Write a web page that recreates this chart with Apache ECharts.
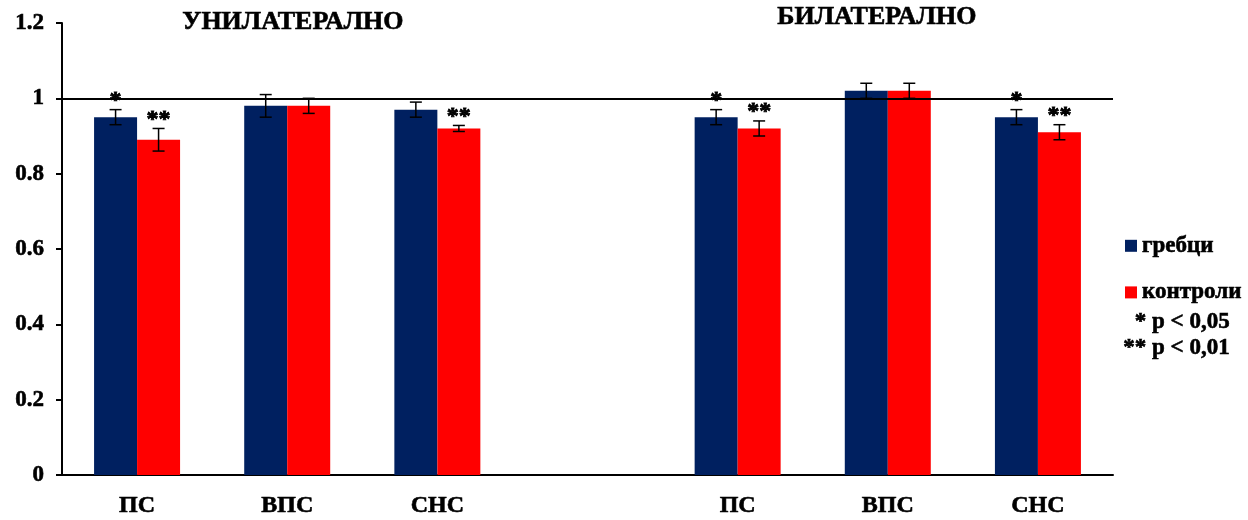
<!DOCTYPE html>
<html>
<head>
<meta charset="utf-8">
<script src="https://cdn.jsdelivr.net/npm/echarts@6/dist/echarts.min.js"></script>
<style>
  html, body { margin: 0; padding: 0; background: #fff; }
  #chart { width: 1248px; height: 520px; }
</style>
</head>
<body>
<div id="chart"></div>
<script>
// Categories: unilateral group, an empty spacer slot, bilateral group
const categories = ['ПС', 'ВПС', 'СНС', '', 'ПС', 'ВПС', 'СНС'];
const groupTitles = ['УНИЛАТЕРАЛНО', 'БИЛАТЕРАЛНО'];
const seriesNames = ['гребци', 'контроли'];

const grebci      = [0.95, 0.98, 0.97, null, 0.95, 1.02, 0.95];
const grebciErr   = [0.02, 0.03, 0.02, null, 0.02, 0.02, 0.02];
const grebciSig   = ['*', '', '', '', '*', '', '*'];

const kontroli    = [0.89, 0.98, 0.92, null, 0.92, 1.02, 0.91];
const kontroliErr = [0.03, 0.02, 0.008, null, 0.02, 0.02, 0.02];
const kontroliSig = ['**', '', '**', '', '**', '', '**'];

const pNotes = ['* p < 0,05', '** p < 0,01'];
const yTicks = { min: 0, max: 1.2, interval: 0.2 };
const referenceLevel = 1;

const FONT = '"Liberation Serif", "Times New Roman", serif';
const BAR_W = 43;
const NAVY = '#002060';
const RED = '#ff0000';
// a thin same-colour outline gives the heavy bold lettering
const HEAVY = { textBorderColor: '#000', textBorderWidth: 0.6 };

const chart = echarts.init(document.getElementById('chart'), null, { renderer: 'canvas' });

// Error bars plus significance markers, drawn per bar through the axis scales
function errorSeries(values, errs, sigs, side) {
  const data = [];
  values.forEach((v, i) => { if (v != null) data.push([i, v, errs[i]]); });
  return {
    type: 'custom',
    z: 6,
    silent: true,
    data: data,
    renderItem: function (params, api) {
      const i = api.value(0), v = api.value(1), e = api.value(2);
      const top = api.coord([i, v + e]);
      const bot = api.coord([i, v - e]);
      const x = top[0] + side * BAR_W / 2;
      const cap = 6;
      const style = { stroke: '#000', lineWidth: 1.5 };
      const children = [
        { type: 'line', shape: { x1: x, y1: top[1], x2: x, y2: bot[1] }, style: style },
        { type: 'line', shape: { x1: x - cap, y1: top[1], x2: x + cap, y2: top[1] }, style: style },
        { type: 'line', shape: { x1: x - cap, y1: bot[1], x2: x + cap, y2: bot[1] }, style: style }
      ];
      const s = sigs[i];
      if (s) {
        children.push({
          type: 'text',
          style: {
            x: x, y: top[1] - 9, text: s,
            fill: '#000', font: 'bold 24px ' + FONT,
            stroke: '#000', lineWidth: 0.8,
            align: 'center', verticalAlign: 'middle'
          }
        });
      }
      return { type: 'group', children: children };
    }
  };
}

const textFont = (size) => Object.assign({ font: 'bold ' + size + 'px ' + FONT, fill: '#000', stroke: '#000', lineWidth: 0.6 });

const option = {
  animation: false,
  backgroundColor: '#fff',
  textStyle: { fontFamily: FONT },
  grid: { left: 62, right: 135, top: 23, bottom: 45, containLabel: false },
  legend: {
    data: seriesNames,
    orient: 'vertical',
    left: 1120,
    top: 229,
    itemWidth: 12,
    itemHeight: 12,
    itemGap: 23,
    icon: 'rect',
    textStyle: Object.assign({ fontFamily: FONT, fontWeight: 'bold', fontSize: 23, color: '#000' }, HEAVY)
  },
  graphic: [
    { type: 'text', left: 182, top: 9, style: Object.assign({ text: groupTitles[0] }, textFont(26)) },
    { type: 'text', left: 777, top: 4, style: Object.assign({ text: groupTitles[1] }, textFont(26)) },
    { type: 'text', right: 18, top: 310, style: Object.assign({ text: pNotes[0], align: 'right' }, textFont(23)) },
    { type: 'text', right: 18, top: 336, style: Object.assign({ text: pNotes[1], align: 'right' }, textFont(23)) }
  ],
  xAxis: {
    type: 'category',
    data: categories,
    axisLine: { lineStyle: { color: '#000', width: 2 } },
    axisTick: { show: false },
    axisLabel: Object.assign({ color: '#000', fontFamily: FONT, fontWeight: 'bold', fontSize: 24, margin: 19 }, HEAVY),
    splitLine: { show: false }
  },
  yAxis: {
    type: 'value',
    min: yTicks.min,
    max: yTicks.max,
    interval: yTicks.interval,
    axisLine: { show: true, lineStyle: { color: '#000', width: 2 } },
    axisTick: { show: true, length: 6, lineStyle: { color: '#000', width: 2 } },
    axisLabel: Object.assign({ color: '#000', fontFamily: FONT, fontWeight: 'bold', fontSize: 23, margin: 18 }, HEAVY),
    splitLine: { show: false }
  },
  series: [
    {
      name: seriesNames[0],
      type: 'bar',
      data: grebci.map(v => v == null ? '-' : v),
      barWidth: BAR_W,
      barGap: '0%',
      itemStyle: { color: NAVY },
      markLine: {
        silent: true,
        symbol: 'none',
        label: { show: false },
        lineStyle: { color: '#000', width: 2, type: 'solid' },
        data: [{ yAxis: referenceLevel }]
      },
      z: 2
    },
    {
      name: seriesNames[1],
      type: 'bar',
      data: kontroli.map(v => v == null ? '-' : v),
      barWidth: BAR_W,
      barGap: '0%',
      itemStyle: { color: RED },
      z: 2
    },
    errorSeries(grebci, grebciErr, grebciSig, -1),
    errorSeries(kontroli, kontroliErr, kontroliSig, 1)
  ]
};

chart.setOption(option);
</script>
</body>
</html>
